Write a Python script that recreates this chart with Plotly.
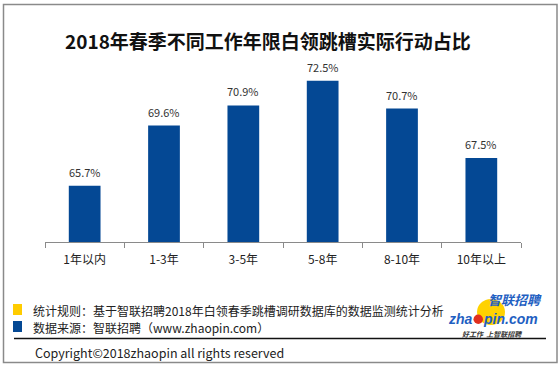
import plotly.graph_objects as go

categories = ["1年以内", "1-3年", "3-5年", "5-8年", "8-10年", "10年以上"]
values = [65.7, 69.6, 70.9, 72.5, 70.7, 67.5]
value_labels = ["65.7%", "69.6%", "70.9%", "72.5%", "70.7%", "67.5%"]

TITLE = "2018年春季不同工作年限白领跳槽实际行动占比"
NOTE1 = "统计规则：基于智联招聘2018年白领春季跳槽调研数据库的数据监测统计分析"
NOTE2 = "数据来源：智联招聘（www.zhaopin.com）"
COPY = "Copyright©2018zhaopin all rights reserved"

W, H = 560, 368
L, R, T, B = 45, 39, 42, 126
PW, PH = W - L - R, H - T - B
FONT = "Noto Sans CJK SC, Noto Sans, sans-serif"


def px(x):
    return (x - L) / PW


def py(y):
    return (H - B - y) / PH


fig = go.Figure()
fig.add_trace(go.Bar(
    x=categories, y=values, width=0.4,
    marker=dict(color="#044894", line=dict(width=0)),
    hoverinfo="skip",
))

ann = []
for c, v, t in zip(categories, values, value_labels):
    ann.append(dict(x=c, y=v, xref="x", yref="y", text=t, showarrow=False,
                    yanchor="bottom", yshift=4,
                    font=dict(family=FONT, size=11, color="#333333")))

ann.append(dict(x=px(268), y=py(40), xref="paper", yref="paper", text="<b>" + TITLE + "</b>",
                showarrow=False, xanchor="center", yanchor="middle",
                font=dict(family=FONT, size=19, color="#111111")))
ann.append(dict(x=px(31), y=py(310), xref="paper", yref="paper", text=NOTE1,
                showarrow=False, xanchor="left", yanchor="middle",
                font=dict(family=FONT, size=12, color="#222222")))
ann.append(dict(x=px(31), y=py(327), xref="paper", yref="paper", text=NOTE2,
                showarrow=False, xanchor="left", yanchor="middle",
                font=dict(family=FONT, size=12, color="#222222")))
ann.append(dict(x=px(33), y=py(352), xref="paper", yref="paper", text=COPY,
                showarrow=False, xanchor="left", yanchor="middle",
                font=dict(family=FONT, size=12.5, color="#222222")))
# logo texts
ann.append(dict(x=px(543), y=py(299.5), xref="paper", yref="paper", text="<b><i>智联招聘</i></b>",
                showarrow=False, xanchor="right", yanchor="middle", borderpad=0,
                font=dict(family=FONT, size=13, color="#1f5fc2")))
ann.append(dict(x=px(474), y=py(319), xref="paper", yref="paper", text="<b><i>zha</i></b>",
                showarrow=False, xanchor="right", yanchor="middle", borderpad=0,
                font=dict(family="Liberation Sans, Arial, sans-serif", size=14, color="#1f5fc2")))
ann.append(dict(x=px(482), y=py(319), xref="paper", yref="paper", text="<b><i>pin.com</i></b>",
                showarrow=False, xanchor="left", yanchor="middle", borderpad=0,
                font=dict(family="Liberation Sans, Arial, sans-serif", size=14, color="#1f5fc2")))
ann.append(dict(x=px(492), y=py(333.5), xref="paper", yref="paper", text="<b><i>好工作  上智联招聘</i></b>",
                showarrow=False, xanchor="center", yanchor="middle", borderpad=0,
                font=dict(family=FONT, size=7, color="#333333")))

shapes = [
    # outer border
    dict(type="rect", xref="paper", yref="paper", x0=px(3.5), x1=px(557), y0=py(4.5), y1=py(362.5),
         line=dict(color="#8a8a8a", width=1.5), layer="below"),
    # legend squares
    dict(type="rect", xref="paper", yref="paper", x0=px(13), x1=px(22), y0=py(304), y1=py(315),
         fillcolor="#FFCC00", line=dict(width=0)),
    dict(type="rect", xref="paper", yref="paper", x0=px(13), x1=px(22), y0=py(321), y1=py(332),
         fillcolor="#044894", line=dict(width=0)),
    # separator line
    dict(type="line", xref="paper", yref="paper", x0=px(14), x1=px(546), y0=py(338.5), y1=py(338.5),
         line=dict(color="#111111", width=1.3)),
    # logo swoosh & dot
    dict(type="circle", xref="paper", yref="paper", x0=px(477), x1=px(505), y0=py(299), y1=py(325),
         fillcolor="#FFD200", line=dict(width=0), layer="below"),
    dict(type="circle", xref="paper", yref="paper", x0=px(473.5), x1=px(483), y0=py(314.5), y1=py(324),
         fillcolor="#E0301E", line=dict(width=0)),
]

fig.update_layout(
    width=W, height=H,
    margin=dict(l=L, r=R, t=T, b=B, pad=0),
    paper_bgcolor="white", plot_bgcolor="white",
    showlegend=False,
    annotations=ann, shapes=shapes,
    font=dict(family=FONT),
    xaxis=dict(
        showline=True, linecolor="#8a8a8a", linewidth=1,
        ticks="outside", tickson="boundaries", ticklen=5, tickcolor="#8a8a8a",
        ticklabelstandoff=7,
        tickfont=dict(family=FONT, size=12, color="#222222"),
        showgrid=False, zeroline=False, fixedrange=True,
    ),
    yaxis=dict(visible=False, range=[62.07, 75.0], fixedrange=True),
)

fig.write_html("out.html", config={"displayModeBar": False},
               post_script="document.body.style.margin='0';document.body.style.padding='0';")
